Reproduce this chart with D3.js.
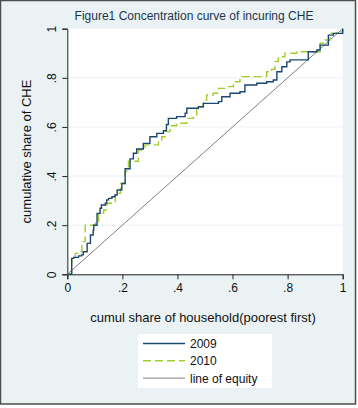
<!DOCTYPE html>
<html>
<head>
<meta charset="utf-8">
<script src="https://cdn.jsdelivr.net/npm/d3@7"></script>
<style>
  body { margin: 0; background: #fff; }
  text { font-family: "Liberation Sans", Arial, sans-serif; fill: #111; }
</style>
</head>
<body>
<svg id="chart" width="358" height="408"></svg>
<script>
"use strict"

// cumulative share of households (x) vs cumulative share of CHE (y)
var x2009 = [0, 0.016, 0.023, 0.041, 0.052, 0.058, 0.072, 0.084, 0.094, 0.096, 0.108, 0.119, 0.124, 0.138, 0.143, 0.150, 0.162, 0.173, 0.181, 0.198, 0.210, 0.228, 0.240, 0.252, 0.276, 0.300, 0.325, 0.349, 0.360, 0.367, 0.397, 0.428, 0.434, 0.476, 0.494, 0.549, 0.561, 0.591, 0.627, 0.645, 0.688, 0.724, 0.748, 0.761, 0.779, 0.797, 0.809, 0.857, 0.875, 0.906, 0.918, 0.948, 0.966, 1];
var y2009 = [0, 0.065, 0.069, 0.075, 0.079, 0.092, 0.126, 0.160, 0.180, 0.200, 0.248, 0.269, 0.282, 0.289, 0.303, 0.309, 0.316, 0.323, 0.343, 0.370, 0.430, 0.470, 0.493, 0.510, 0.533, 0.560, 0.574, 0.585, 0.610, 0.635, 0.642, 0.656, 0.676, 0.682, 0.696, 0.703, 0.723, 0.737, 0.743, 0.771, 0.778, 0.784, 0.791, 0.825, 0.845, 0.865, 0.873, 0.873, 0.906, 0.913, 0.933, 0.974, 0.981, 1];

var x2010 = [0, 0.016, 0.029, 0.041, 0.053, 0.065, 0.096, 0.102, 0.114, 0.132, 0.144, 0.160, 0.174, 0.193, 0.210, 0.222, 0.258, 0.270, 0.282, 0.319, 0.331, 0.343, 0.355, 0.373, 0.397, 0.434, 0.458, 0.470, 0.494, 0.506, 0.530, 0.549, 0.579, 0.603, 0.627, 0.688, 0.724, 0.742, 0.754, 0.766, 0.790, 0.833, 0.906, 0.918, 0.936, 0.954, 0.979, 1];
var y2010 = [0, 0.060, 0.085, 0.092, 0.133, 0.200, 0.200, 0.214, 0.248, 0.262, 0.289, 0.296, 0.330, 0.370, 0.420, 0.460, 0.506, 0.513, 0.527, 0.527, 0.540, 0.560, 0.581, 0.605, 0.615, 0.635, 0.649, 0.682, 0.709, 0.730, 0.737, 0.757, 0.764, 0.784, 0.805, 0.805, 0.825, 0.835, 0.866, 0.886, 0.900, 0.906, 0.906, 0.941, 0.954, 0.981, 0.988, 1];

var xEquity = [0, 1];
var yEquity = [0, 1];

var tickValues = [0, 0.2, 0.4, 0.6, 0.8, 1];
var tickLabels = ["0", ".2", ".4", ".6", ".8", "1"];
var legendLabels = ["2009", "2010", "line of equity"];

var COLOR_2009 = "#1a476f";
var COLOR_2010 = "#a3cc2e";
var COLOR_EQUITY = "#808080";
var BG = "#eaf2f3";

function fmtTick(d) { return tickLabels[tickValues.indexOf(d)]; }

var svg = d3.select("#chart");

// graph region
svg.append("rect")
	.attr("x", 0.5).attr("y", 0.5)
	.attr("width", 355).attr("height", 403.5)
	.attr("fill", BG)
	.attr("stroke", "#4d4d4d")
	.attr("stroke-width", 1.5);

var plotLeft = 67.3, plotRight = 342.7, plotTop = 28.7, plotBottom = 274.3;

var x = d3.scaleLinear().domain([0, 1]).range([plotLeft, plotRight]);
var y = d3.scaleLinear().domain([0, 1]).range([plotBottom, plotTop]);

// plot region
svg.append("rect")
	.attr("x", plotLeft).attr("y", plotTop)
	.attr("width", plotRight - plotLeft).attr("height", plotBottom - plotTop)
	.attr("fill", "#fff");

// horizontal grid
svg.append("g")
	.selectAll("line")
	.data(tickValues.slice(1, 5))
	.join("line")
	.attr("x1", plotLeft).attr("x2", plotRight)
	.attr("y1", function(d) { return y(d); })
	.attr("y2", function(d) { return y(d); })
	.attr("stroke", BG)
	.attr("stroke-width", 1);

// axes
var gx = svg.append("g")
	.attr("transform", "translate(0," + plotBottom + ")")
	.call(d3.axisBottom(x).tickValues(tickValues).tickFormat(fmtTick).tickSizeOuter(0).tickSize(5).tickPadding(4));
gx.select(".domain").attr("stroke", "#222");
gx.selectAll(".tick line").attr("stroke", "#222");
gx.selectAll("text").attr("font-size", 12).style("font-family", "Liberation Sans, Arial, sans-serif").attr("fill", "#111");

var gy = svg.append("g")
	.attr("transform", "translate(" + plotLeft + ",0)")
	.call(d3.axisLeft(y).tickValues(tickValues).tickFormat(fmtTick).tickSizeOuter(0).tickSize(5));
gy.select(".domain").attr("stroke", "#222");
gy.selectAll(".tick line").attr("stroke", "#222");
gy.selectAll(".tick text")
	.attr("x", null).attr("dy", null)
	.attr("transform", "translate(-11,0) rotate(-90)")
	.attr("text-anchor", "middle")
	.attr("font-size", 12)
	.style("font-family", "Liberation Sans, Arial, sans-serif")
	.attr("fill", "#111");

// curves
var line = d3.line()
	.x(function(d) { return x(d[0]); })
	.y(function(d) { return y(d[1]); });

svg.append("path")
	.datum(d3.zip(xEquity, yEquity))
	.attr("d", line)
	.attr("fill", "none")
	.attr("stroke", COLOR_EQUITY)
	.attr("stroke-width", 1);

svg.append("path")
	.datum(d3.zip(x2010, y2010))
	.attr("d", line.curve(d3.curveStepAfter))
	.attr("fill", "none")
	.attr("stroke", COLOR_2010)
	.attr("stroke-width", 1.4)
	.attr("stroke-dasharray", "8,4");

svg.append("path")
	.datum(d3.zip(x2009, y2009))
	.attr("d", line.curve(d3.curveStepAfter))
	.attr("fill", "none")
	.attr("stroke", COLOR_2009)
	.attr("stroke-width", 1.4);

// titles
svg.append("text")
	.attr("x", 194).attr("y", 19.5)
	.attr("text-anchor", "middle")
	.attr("font-size", 12)
	.style("fill", "#1a3550")
	.text("Figure1 Concentration curve of incuring CHE");

svg.append("text")
	.attr("transform", "translate(31," + ((plotTop + plotBottom) / 2) + ") rotate(-90)")
	.attr("text-anchor", "middle")
	.attr("font-size", 13)
	.text("cumulative share of CHE");

svg.append("text")
	.attr("x", 203).attr("y", 322)
	.attr("text-anchor", "middle")
	.attr("font-size", 13)
	.text("cumul share of household(poorest first)");

// legend
var legend = svg.append("g").attr("transform", "translate(138,334)");
legend.append("rect")
	.attr("width", 134).attr("height", 54)
	.attr("fill", "#fff");

var legendStyles = [
	{ color: COLOR_2009, dash: null, width: 1.4 },
	{ color: COLOR_2010, dash: "8,4", width: 1.4 },
	{ color: COLOR_EQUITY, dash: null, width: 1 }
];

var items = legend.selectAll("g.item")
	.data(legendLabels)
	.join("g")
	.attr("class", "item")
	.attr("transform", function(d, i) { return "translate(0," + (9.5 + i * 17.3) + ")"; });

items.append("line")
	.attr("x1", 5).attr("x2", 47)
	.attr("stroke", function(d, i) { return legendStyles[i].color; })
	.attr("stroke-width", function(d, i) { return legendStyles[i].width; })
	.attr("stroke-dasharray", function(d, i) { return legendStyles[i].dash; });

items.append("text")
	.attr("x", 52).attr("y", 4.5)
	.attr("font-size", 12)
	.text(function(d) { return d; });
</script>
</body>
</html>
